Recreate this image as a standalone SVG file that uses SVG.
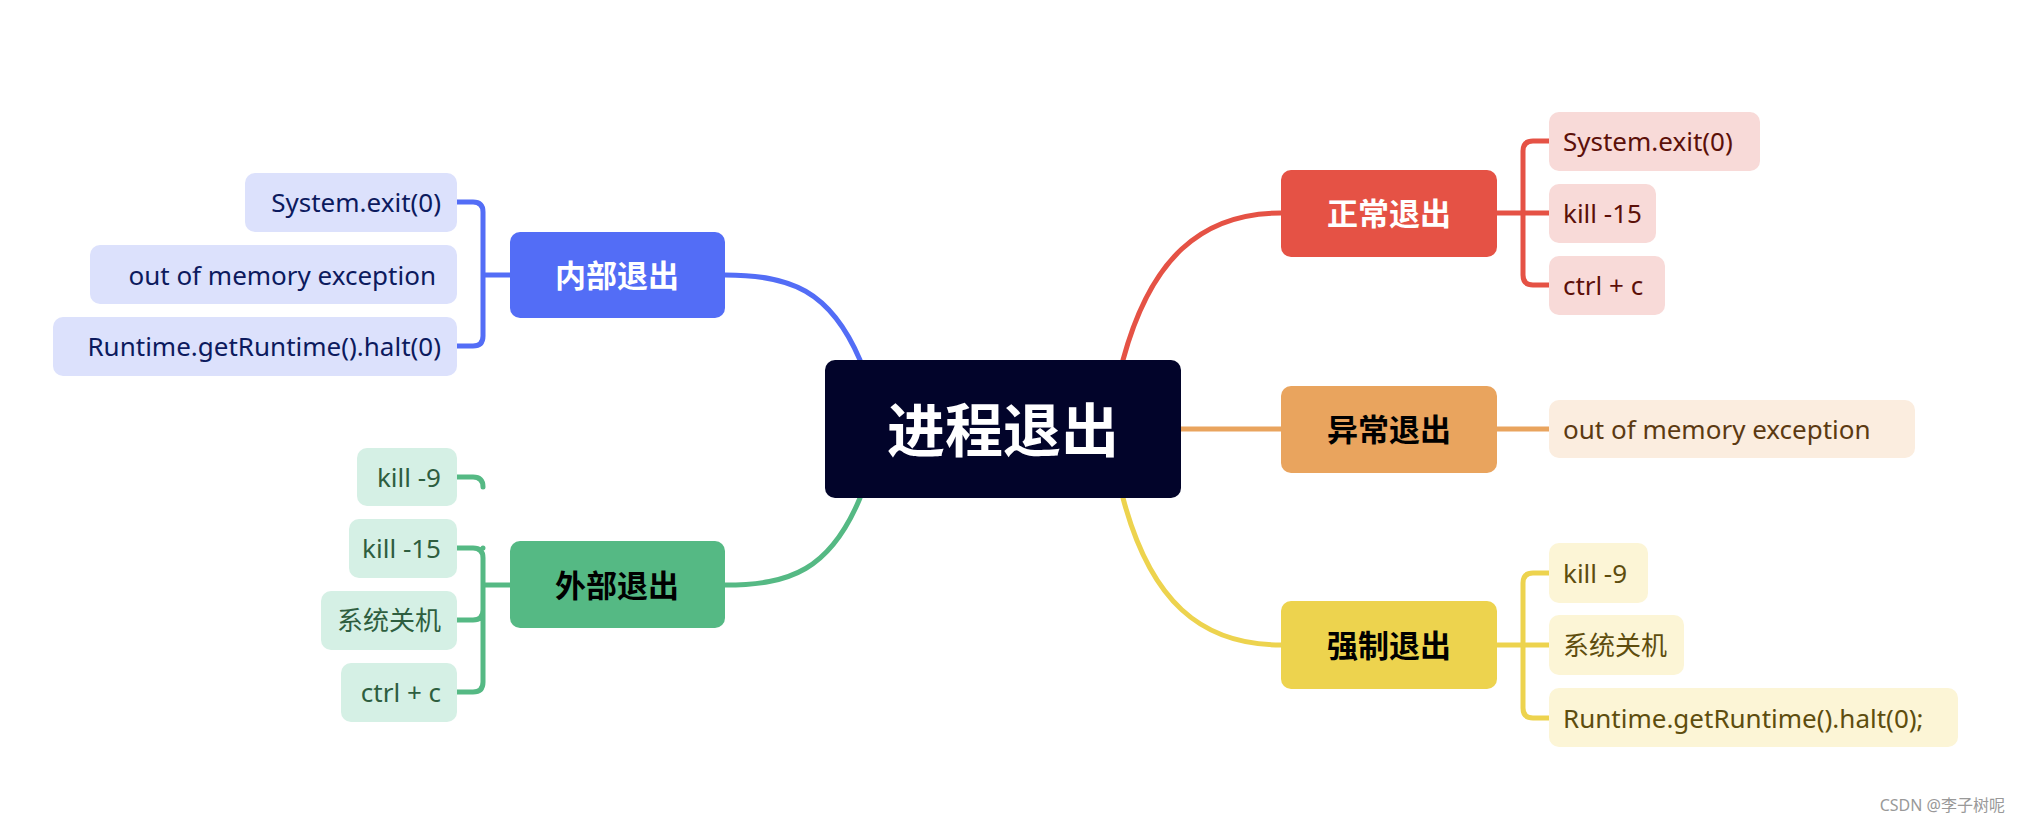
<svg xmlns="http://www.w3.org/2000/svg" width="2019" height="823" viewBox="0 0 2019 823">
<style>
text{font-family:"Noto Sans","Noto Sans CJK SC",sans-serif;dominant-baseline:central}
.leaf{font-size:26px}
.br{font-size:31px;font-weight:bold;text-anchor:middle}
.c{fill:none;stroke-width:5;stroke-linecap:round;stroke-linejoin:round}
</style>
<rect width="2019" height="823" fill="#fff"/>
<g id="connectors">
<path class="c" stroke="#536DF6" d="M860,360 C830,290 790,275 725,275 M510,275 H483 M457,202 H473 Q483,202 483,212 V336 Q483,346 473,346 H457"/>
<path class="c" stroke="#55B984" d="M860,498 C830,570 790,585 725,585 M510,585 H483 M457,548 H473 Q483,548 483,558 V682 Q483,692 473,692 H457 M457,620 H473 Q483,620 483,610 M457,477 H473 Q483,477 483,487 M483,548 V548"/>
<path class="c" stroke="#E55245" d="M1123,360 C1150,260 1200,213 1281,213 M1497,213 H1549 M1549,141 H1533 Q1523,141 1523,151 V275 Q1523,285 1533,285 H1549"/>
<path class="c" stroke="#E9A45E" d="M1181,429 H1281 M1497,429 H1549"/>
<path class="c" stroke="#EDD34E" d="M1123,498 C1150,600 1200,645 1281,645 M1497,645 H1549 M1549,573 H1533 Q1523,573 1523,583 V708 Q1523,718 1533,718 H1549"/>
</g>
<g id="center"><rect x="825" y="360" width="356" height="138" rx="10" fill="#02042A"/><text x="1003" y="429" font-size="58" fill="#fff" text-anchor="middle" font-weight="bold">进程退出</text></g>
<g id="b-inner"><rect x="510" y="232" width="215" height="86" rx="10" fill="#536DF6"/><text class="br" x="617" y="275" fill="#fff">内部退出</text></g>
<g id="b-outer"><rect x="510" y="541" width="215" height="87" rx="10" fill="#55B984"/><text class="br" x="617" y="585" fill="#000">外部退出</text></g>
<g id="b-normal"><rect x="1281" y="170" width="216" height="87" rx="10" fill="#E55245"/><text class="br" x="1389" y="213" fill="#fff">正常退出</text></g>
<g id="b-abn"><rect x="1281" y="386" width="216" height="87" rx="10" fill="#E9A45E"/><text class="br" x="1389" y="429" fill="#000">异常退出</text></g>
<g id="b-force"><rect x="1281" y="601" width="216" height="88" rx="10" fill="#EDD34E"/><text class="br" x="1389" y="645" fill="#000">强制退出</text></g>
<g fill="#DCE1FC">
<g id="l1"><rect x="245" y="173" width="212" height="59" rx="10"/><text class="leaf" x="441" y="202" fill="#0C1A5E" text-anchor="end">System.exit(0)</text></g>
<g id="l2"><rect x="90" y="245" width="367" height="59" rx="10"/><text class="leaf" x="436" y="275" fill="#0C1A5E" text-anchor="end">out of memory exception</text></g>
<g id="l3"><rect x="53" y="317" width="404" height="59" rx="10"/><text class="leaf" x="441" y="346" fill="#0C1A5E" text-anchor="end">Runtime.getRuntime().halt(0)</text></g>
</g>
<g fill="#D5F0E5">
<g id="l4"><rect x="357" y="448" width="100" height="58" rx="10"/><text class="leaf" x="441" y="477" fill="#2E5E3F" text-anchor="end">kill -9</text></g>
<g id="l5"><rect x="349" y="519" width="108" height="59" rx="10"/><text class="leaf" x="441" y="548" fill="#2E5E3F" text-anchor="end">kill -15</text></g>
<g id="l6"><rect x="321" y="591" width="136" height="59" rx="10"/><text class="leaf" x="441" y="620" fill="#2E5E3F" text-anchor="end">系统关机</text></g>
<g id="l7"><rect x="341" y="663" width="116" height="59" rx="10"/><text class="leaf" x="441" y="692" fill="#2E5E3F" text-anchor="end">ctrl + c</text></g>
</g>
<g fill="#F8DAD8">
<g id="r1"><rect x="1549" y="112" width="211" height="59" rx="10"/><text class="leaf" x="1563" y="141" fill="#5C1009">System.exit(0)</text></g>
<g id="r2"><rect x="1549" y="184" width="107" height="59" rx="10"/><text class="leaf" x="1563" y="213" fill="#5C1009">kill -15</text></g>
<g id="r3"><rect x="1549" y="256" width="116" height="59" rx="10"/><text class="leaf" x="1563" y="285" fill="#5C1009">ctrl + c</text></g>
</g>
<g id="r4"><rect x="1549" y="400" width="366" height="58" rx="10" fill="#FBEDDF"/><text class="leaf" x="1563" y="429" fill="#5C3A12">out of memory exception</text></g>
<g fill="#FCF5D6">
<g id="r5"><rect x="1549" y="543" width="99" height="60" rx="10"/><text class="leaf" x="1563" y="573" fill="#5E4D0E">kill -9</text></g>
<g id="r6"><rect x="1549" y="615" width="135" height="60" rx="10"/><text class="leaf" x="1563" y="645" fill="#5E4D0E">系统关机</text></g>
<g id="r7"><rect x="1549" y="688" width="409" height="59" rx="10"/><text class="leaf" x="1563" y="718" fill="#5E4D0E">Runtime.getRuntime().halt(0);</text></g>
</g>
<text x="2005" y="805" font-size="16" fill="#999" text-anchor="end">CSDN @李子树呢</text>
</svg>
